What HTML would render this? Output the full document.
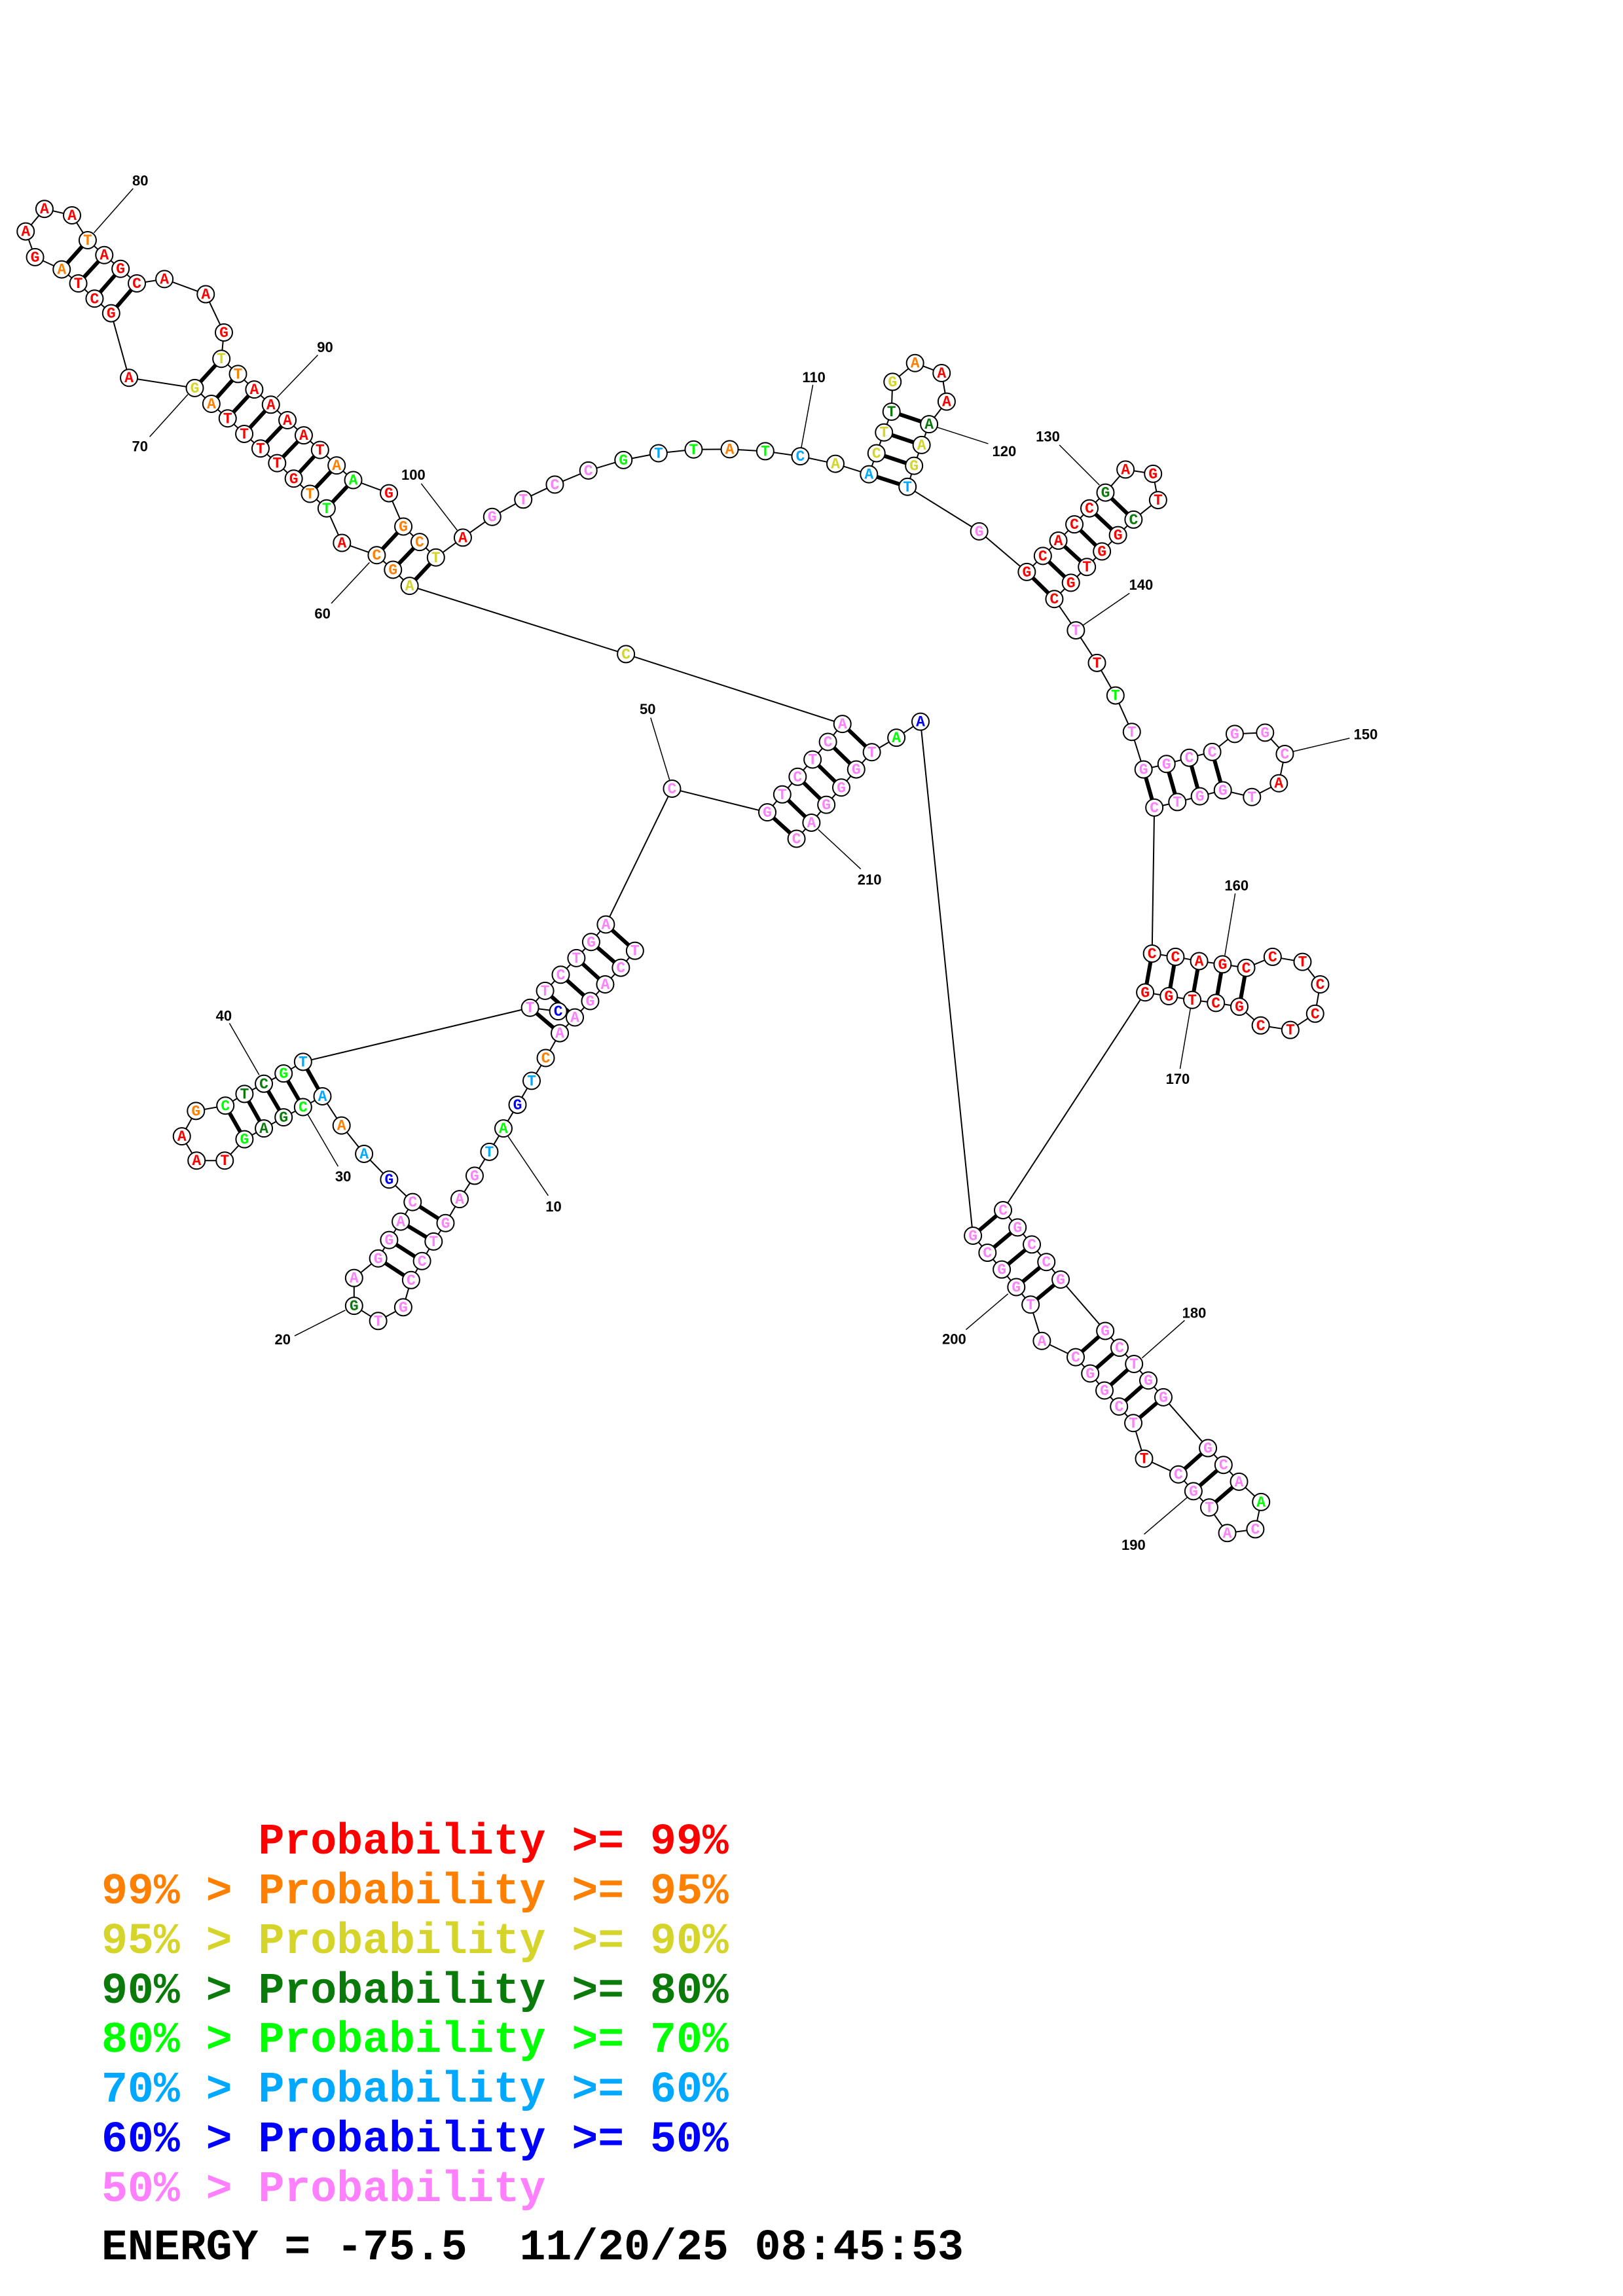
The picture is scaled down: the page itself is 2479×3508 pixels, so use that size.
<!DOCTYPE html>
<html><head><meta charset="utf-8">
<style>html,body{margin:0;padding:0;background:#fff;}svg{display:block;}</style>
</head><body>
<svg id="s" xmlns="http://www.w3.org/2000/svg" width="2479" height="3508" viewBox="0 0 2479 3508">
<rect width="2479" height="3508" fill="#fff"/>
<g id="bb"></g><g id="pp"></g><g id="nn"></g><g id="ll"></g>
<g font-family="'Liberation Mono', monospace" font-weight="bold" font-size="66.5" style="white-space:pre">
<text x="155" y="2832" fill="#ff0000">&#160;&#160;&#160;&#160;&#160;&#160;Probability &gt;= 99%</text>
<text x="155" y="2908" fill="#ff8000">99% &gt; Probability &gt;= 95%</text>
<text x="155" y="2984" fill="#d4d42a">95% &gt; Probability &gt;= 90%</text>
<text x="155" y="3060" fill="#0a7a0a">90% &gt; Probability &gt;= 80%</text>
<text x="155" y="3135" fill="#00ff00">80% &gt; Probability &gt;= 70%</text>
<text x="155" y="3211" fill="#00a8ff">70% &gt; Probability &gt;= 60%</text>
<text x="155" y="3287" fill="#0000ff">60% &gt; Probability &gt;= 50%</text>
<text x="155" y="3363" fill="#ff80ff">50% &gt; Probability</text>
<text x="155" y="3452" fill="#000">ENERGY = -75.5&#160;&#160;11/20/25 08:45:53</text>
</g>
</svg>
<script>
const Zs={1:[0,250,2.0907,2.24],2:[650,500,1.3067,2.613],3:[250,1350,2.0907,2.24],4:[950,1050,2.851,2.851],5:[1700,1080,2.85,2.613],6:[1400,1800,2.613,2.613]};
function P(z,x,y){const t=Zs[z];return [t[0]+x/t[2],t[1]+y/t[3]];}
const COL={R:'#ff0000',O:'#ff8000',Y:'#d4d42a',D:'#0a7a0a',G:'#00ff00',C:'#00a8ff',B:'#0000ff',P:'#ff80ff'};
const S=[];
function add(z,arr){arr.forEach(a=>S.push([z].concat(a)));}
add(3,[[1505,230,'T','P'],[1460,288,'C','P'],[1410,345,'A','P'],[1362,402,'G','P'],[1313,458,'A','P'],[1265,512,'A','P'],[1220,597,'C','O'],[1175,675,'T','C'],[1130,757,'G','B'],[1085,838,'A','G'],[1040,918,'T','C'],[993,1000,'G','P'],[945,1080,'A','P'],[900,1162,'G','P'],[862,1225,'T','P'],[825,1292,'C','P'],[790,1357,'C','P'],[765,1450,'G','P'],[685,1497,'T','P'],[608,1445,'G','D'],[608,1350,'A','P'],[685,1283,'G','P'],[720,1220,'G','P'],[757,1157,'A','P'],[795,1090,'C','P'],[720,1013,'G','B'],[640,925,'A','C'],[568,828,'A','O'],[507,728,'A','C'],[445,765,'C','G'],[383,800,'G','D'],[320,838,'A','D'],[258,875,'G','G'],[195,948,'T','R'],[105,948,'A','R'],[58,865,'A','R'],[103,778,'G','O'],[197,760,'C','G'],[258,720,'T','D'],[320,685,'C','D'],[383,650,'G','G'],[445,610,'T','C'],[1170,425,'T','P'],[1218,367,'T','P'],[1268,312,'C','P'],[1318,255,'T','P'],[1365,200,'G','P'],[1412,140,'A','P']]);
add(4,[[218,442,'C','P'],[633,545,'G','P'],[698,467,'T','P'],[765,390,'C','P'],[830,315,'T','P'],[897,238,'C','P'],[960,160,'A','P']]);
add(2,[[400,1305,'C','Y']]);
add(1,[[1308,1445,'A','Y'],[1255,1390,'G','O'],[1203,1340,'C','O'],[1092,1298,'A','R'],[1043,1180,'T','G'],[990,1130,'T','O'],[938,1078,'G','R'],[885,1025,'T','R'],[832,975,'T','R'],[780,925,'T','R'],[727,872,'T','R'],[675,822,'A','O'],[622,768,'G','Y'],[412,733,'A','R'],[355,512,'G','R'],[302,462,'C','R'],[250,410,'T','R'],[197,362,'A','O'],[112,320,'G','R'],[82,232,'A','R'],[142,155,'A','R'],[230,177,'A','R'],[280,262,'T','O'],[333,313,'A','R'],[385,360,'G','R'],[437,410,'C','R'],[525,395,'A','R'],[657,447,'A','R'],[715,578,'G','R'],[707,668,'T','Y'],[760,720,'T','O'],[812,773,'A','R'],[865,825,'A','R'],[918,878,'A','R'],[970,930,'A','R'],[1022,980,'T','R'],[1075,1033,'A','O'],[1128,1083,'A','G'],[1242,1128,'G','R'],[1288,1242,'G','O'],[1340,1295,'C','O'],[1392,1348,'T','Y'],[1478,1280,'A','R']]);
add(2,[[133,757,'G','P'],[195,688,'T','P'],[258,628,'C','P'],[325,572,'C','P'],[395,530,'G','G'],[465,503,'T','C'],[535,488,'T','G'],[607,487,'A','O'],[678,495,'T','G'],[748,515,'C','C'],[818,545,'A','Y'],[885,587,'A','C'],[900,503,'C','Y'],[915,420,'T','Y'],[930,337,'T','D'],[932,218,'G','Y'],[977,143,'A','O'],[1030,183,'A','R'],[1040,297,'A','R'],[1005,387,'A','D'],[990,470,'A','Y'],[975,553,'G','Y'],[962,637,'T','C'],[1105,815,'G','P'],[1200,977,'G','R'],[1232,913,'C','R'],[1263,852,'A','R'],[1295,787,'C','R'],[1325,723,'C','R'],[1357,660,'G','D'],[1397,568,'A','R'],[1452,585,'G','R'],[1462,690,'T','R'],[1413,768,'C','D'],[1382,830,'G','R'],[1350,895,'G','R'],[1320,957,'T','R'],[1288,1020,'G','R'],[1255,1085,'C','R'],[1298,1210,'T','P'],[1340,1340,'T','R'],[1377,1470,'T','G']]);
add(5,[[82,100,'T','P'],[133,250,'G','P'],[233,228,'G','P'],[332,203,'C','P'],[432,180,'C','P'],[530,108,'G','P'],[662,103,'G','P'],[748,188,'C','P'],[722,305,'A','R'],[605,360,'T','P'],[478,333,'G','P'],[378,357,'G','P'],[280,380,'T','P'],[180,402,'C','P'],[170,985,'C','R'],[272,998,'C','R'],[375,1015,'A','R'],[477,1028,'G','R'],[580,1042,'C','R'],[695,998,'C','R'],[825,1018,'T','R'],[902,1108,'C','R'],[880,1225,'C','R'],[772,1290,'T','R'],[643,1272,'C','R'],[550,1197,'G','R'],[448,1182,'C','R'],[345,1170,'T','R'],[243,1155,'G','R'],[140,1140,'G','R']]);
add(6,[[345,128,'C','P'],[403,197,'G','P'],[460,265,'C','P'],[518,335,'C','P'],[575,405,'G','P'],[753,610,'G','P'],[810,677,'C','P'],[868,742,'T','P'],[925,808,'G','P'],[985,875,'G','P'],[1163,1078,'G','P'],[1225,1145,'C','P'],[1287,1212,'A','P'],[1375,1293,'A','G'],[1352,1402,'C','P'],[1240,1417,'A','P'],[1168,1315,'T','P'],[1105,1250,'G','P'],[1045,1183,'C','P'],[908,1120,'T','R'],[865,978,'T','P'],[808,912,'C','P'],[750,848,'G','P'],[693,780,'G','P'],[635,715,'C','P'],[500,650,'A','P'],[455,505,'T','P'],[398,435,'G','P'],[340,365,'G','P'],[283,298,'C','P'],[225,230,'G','P']]);
add(4,[[1300,150,'A','B'],[1195,220,'A','G'],[1088,283,'T','P'],[1020,358,'G','P'],[955,437,'G','P'],[890,512,'G','P'],[825,590,'A','P'],[760,660,'C','P']]);
const EXTRA=[[3,1260,437,'C','B']];
const PAIRS=[
[3,1412,140,1505,230],[3,1365,200,1460,288],[3,1318,255,1410,345],[3,1268,312,1362,402],[3,1218,367,1313,458],[3,1170,425,1265,512],
[3,795,1090,900,1162],[3,757,1157,862,1225],[3,720,1220,825,1292],[3,685,1283,790,1357],
[3,507,728,445,610],[3,445,765,383,650],[3,383,800,320,685],[3,320,838,258,720],[3,258,875,197,760],
[4,960,160,1088,283],[4,897,238,1020,358],[4,830,315,955,437],[4,765,390,890,512],[4,698,467,825,590],[4,633,545,760,660],
[1,1203,1340,1288,1242],[1,1255,1390,1340,1295],[1,1308,1445,1392,1348],
[1,1043,1180,1128,1083],[1,990,1130,1075,1033],[1,938,1078,1022,980],[1,885,1025,970,930],[1,832,975,918,878],[1,780,925,865,825],[1,727,872,812,773],[1,675,822,760,720],[1,622,768,707,668],
[1,197,362,280,262],[1,250,410,333,313],[1,302,462,385,360],[1,355,512,437,410],
[2,885,587,962,637],[2,900,503,975,553],[2,915,420,990,470],[2,930,337,1005,387],
[2,1200,977,1255,1085],[2,1232,913,1288,1020],[2,1263,852,1320,957],[2,1295,787,1350,895],[2,1325,723,1382,830],[2,1357,660,1413,768],
[5,133,250,180,402],[5,233,228,280,380],[5,332,203,378,357],[5,432,180,478,333],
[5,170,985,140,1140],[5,272,998,243,1155],[5,375,1015,345,1170],[5,477,1028,448,1182],[5,580,1042,550,1197],
[6,345,128,225,230],[6,403,197,283,298],[6,460,265,340,365],[6,518,335,398,435],[6,575,405,455,505],
[6,753,610,635,715],[6,810,677,693,780],[6,868,742,750,848],[6,925,808,808,912],[6,985,875,865,978],
[6,1163,1078,1045,1183],[6,1225,1145,1105,1250],[6,1287,1212,1168,1315]];
const LAB=[
[1,300,237,425,85,448,58,'80'],[1,885,800,1015,655,1038,628,'90'],[1,600,790,478,935,447,968,'70'],[1,1460,1255,1345,1095,1320,1065,'100'],[1,1180,1365,1058,1505,1030,1540,'60'],
[2,750,480,773,230,775,200,'110'],[2,1022,400,1123,465,1155,495,'120'],[2,1345,630,1265,470,1242,437,'130'],[2,1312,1190,1405,1062,1428,1028,'140'],
[5,785,178,1030,125,1100,110,'150'],[5,487,992,532,745,538,713,'160'],[5,337,1205,292,1445,282,1485,'170'],
[6,900,718,1070,568,1108,538,'180'],[6,1080,1275,908,1422,866,1465,'190'],[6,365,462,197,605,150,643,'200'],
[4,855,620,1040,792,1078,838,'210'],[4,207,403,125,133,112,95,'50'],
[3,305,655,210,478,192,452,'40'],[3,460,790,557,968,573,1002,'30'],[3,1100,865,1228,1068,1245,1105,'10'],[3,580,1460,418,1548,380,1560,'20']];
const NS='http://www.w3.org/2000/svg';
function el(p,t,a,txt){const e=document.createElementNS(NS,t);for(const k in a)e.setAttribute(k,a[k]);if(txt!==undefined)e.textContent=txt;p.appendChild(e);return e;}
const bb=document.getElementById('bb'),pp=document.getElementById('pp'),nn=document.getElementById('nn'),ll=document.getElementById('ll');
const pts=S.map(s=>P(s[0],s[1],s[2]));
for(let i=0;i<pts.length-1;i++){el(bb,'line',{x1:pts[i][0],y1:pts[i][1],x2:pts[i+1][0],y2:pts[i+1][1],stroke:'#000','stroke-width':2});}
const ex=P(3,1260,437),t43=P(3,1170,425);
el(bb,'line',{x1:ex[0],y1:ex[1],x2:t43[0],y2:t43[1],stroke:'#000','stroke-width':2});
PAIRS.forEach(p=>{const a=P(p[0],p[1],p[2]),b=P(p[0],p[3],p[4]);el(pp,'line',{x1:a[0],y1:a[1],x2:b[0],y2:b[1],stroke:'#000','stroke-width':6});});
function node(x,y,L,c){el(nn,'circle',{cx:x,cy:y,r:13,fill:'#fff',stroke:'#000','stroke-width':2});
el(nn,'text',{x:x,y:y+1,'text-anchor':'middle','dominant-baseline':'central','font-family':"'Liberation Mono', monospace",'font-weight':'bold','font-size':23,fill:COL[c]},L);}
S.forEach((s,i)=>node(pts[i][0],pts[i][1],s[3],s[4]));
EXTRA.forEach(e=>{const p=P(e[0],e[1],e[2]);node(p[0],p[1],e[3],e[4]);});
LAB.forEach(l=>{const a=P(l[0],l[1],l[2]),b=P(l[0],l[3],l[4]),t=P(l[0],l[5],l[6]);
el(ll,'line',{x1:a[0],y1:a[1],x2:b[0],y2:b[1],stroke:'#000','stroke-width':1.5});
el(ll,'text',{x:t[0],y:t[1],'text-anchor':'middle','dominant-baseline':'central','font-family':"'Liberation Sans', sans-serif",'font-weight':'bold','font-size':22,fill:'#000'},l[7]);});
</script>
</body></html>
